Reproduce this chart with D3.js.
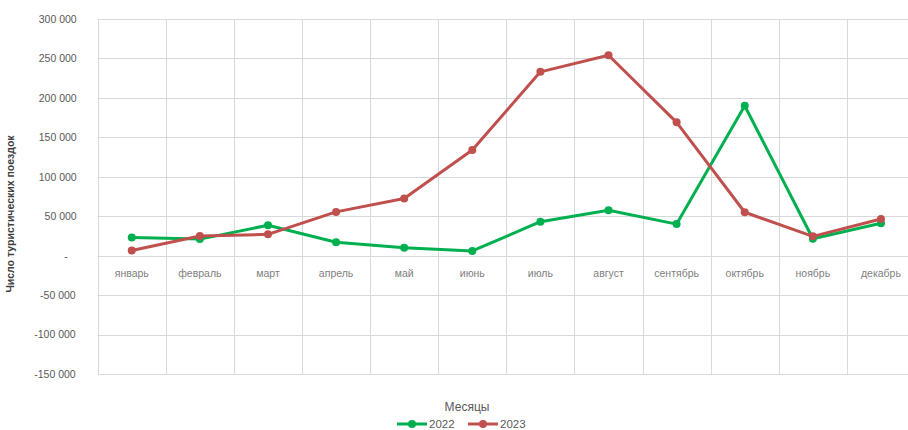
<!DOCTYPE html>
<html><head><meta charset="utf-8">
<script src="https://cdn.jsdelivr.net/npm/d3@7"></script>
<style>
html,body{margin:0;padding:0;background:#fff;}
svg{display:block;font-family:"Liberation Sans",Arial,sans-serif;}
</style></head>
<body>
<svg id="chart" width="908" height="430"></svg>
<script>
const months = ["январь","февраль","март","апрель","май","июнь","июль","август","сентябрь","октябрь","ноябрь","декабрь"];
const values2022 = [23000, 21000, 38500, 17000, 10000, 6000, 43000, 57500, 40000, 190000, 21500, 41000];
const values2023 = [6500, 25000, 27000, 55500, 72500, 134000, 233000, 254000, 169000, 55000, 24500, 46500];
const yTicks = [-150000, -100000, -50000, 0, 50000, 100000, 150000, 200000, 250000, 300000];
const seriesNames = ["2022", "2023"];
const seriesColors = ["#00b050", "#c0504d"];
const series = [values2022, values2023];

(function () {
const svg = d3.select("#chart");
const pLeft = 97.7, pRight = 915, pTop = 19, pBottom = 374;

const x = d3.scaleBand().domain(months).range([pLeft, pRight]).paddingInner(0).paddingOuter(0);
const y = d3.scaleLinear().domain([-150000, 300000]).range([pBottom, pTop]);

const fmt = v => {
  if (v === 0) return "-";
  const s = d3.format(",")(Math.abs(v)).replace(/,/g, " ");
  return (v < 0 ? "-" : "") + s;
};

// horizontal grid
const g = svg.append("g");
g.selectAll("line.h").data(yTicks).join("line").attr("class", "h")
  .attr("x1", pLeft).attr("x2", pRight)
  .attr("y1", d => Math.round(y(d)) + 0.5).attr("y2", d => Math.round(y(d)) + 0.5)
  .attr("stroke", "#d9d9d9").attr("stroke-width", 1);
// vertical grid (category boundaries)
const bounds = months.map(m => x(m)).concat([pRight]);
g.selectAll("line.v").data(bounds).join("line").attr("class", "v")
  .attr("y1", pTop).attr("y2", pBottom)
  .attr("x1", d => Math.round(d) + 0.5).attr("x2", d => Math.round(d) + 0.5)
  .attr("stroke", "#d9d9d9").attr("stroke-width", 1);

// y axis labels
const yAxis = d3.axisLeft(y).tickValues(yTicks).tickFormat(fmt).tickSize(0).tickPadding(0);
const ya = svg.append("g").attr("transform", `translate(${pLeft - 21},0)`).call(yAxis);
ya.select(".domain").remove();
ya.selectAll("text").attr("fill", "#595959").style("font-size", "10.5px")
  .style("font-family", '"Liberation Sans",Arial,sans-serif').attr("dx", d => d < 0 ? -1 : 0);
ya.selectAll("text").filter(d => d === 0).attr("dx", -9);

// x axis labels
const xAxis = d3.axisBottom(x).tickSize(0).tickPadding(0);
const xa = svg.append("g").attr("transform", `translate(0,${y(0) + 21})`).call(xAxis);
xa.select(".domain").remove();
xa.selectAll("text").attr("fill", "#808080").style("font-size", "10.5px")
  .style("font-family", '"Liberation Sans",Arial,sans-serif').attr("dy", "0");

// lines
const line = d3.line().x((d, i) => x(months[i]) + x.bandwidth() / 2).y(d => y(d));
series.forEach((vals, si) => {
  svg.append("path").datum(vals).attr("d", line).attr("fill", "none")
    .attr("stroke", seriesColors[si]).attr("stroke-width", 3).attr("stroke-linejoin", "round");
  svg.append("g").selectAll("circle").data(vals).join("circle")
    .attr("cx", (d, i) => x(months[i]) + x.bandwidth() / 2).attr("cy", d => y(d))
    .attr("r", 4).attr("fill", seriesColors[si]);
});

// y title
svg.append("text").attr("transform", `translate(14,214) rotate(-90)`)
  .attr("text-anchor", "middle").attr("fill", "#404040")
  .style("font-size", "10.5px").style("font-weight", "bold").text("Число туристических поездок");

// x title
svg.append("text").attr("x", 467).attr("y", 411).attr("text-anchor", "middle")
  .attr("fill", "#595959").style("font-size", "12px").text("Месяцы");

// legend
const legX = [397, 468];
seriesNames.forEach((n, i) => {
  const lg = svg.append("g").attr("transform", `translate(${legX[i]},424)`);
  lg.append("line").attr("x1", 0).attr("x2", 30).attr("y1", 0).attr("y2", 0)
    .attr("stroke", seriesColors[i]).attr("stroke-width", 3);
  lg.append("circle").attr("cx", 15).attr("cy", 0).attr("r", 4).attr("fill", seriesColors[i]);
  lg.append("text").attr("x", 32).attr("y", 4).attr("fill", "#595959").style("font-size", "11.5px").text(n);
});
})();
</script>
</body></html>
